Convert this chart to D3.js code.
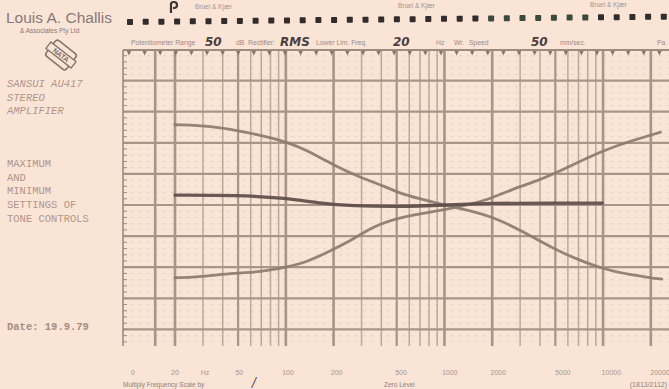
<!DOCTYPE html>
<html><head><meta charset="utf-8">
<script src="https://cdn.jsdelivr.net/npm/d3@7"></script>
<style>html,body{margin:0;padding:0;background:#fae4d6;}svg{display:block;}</style>
</head><body>
<svg id="c" width="669" height="389"></svg>
<script>
// ---------- data ----------
const freqA = [20, 34, 51, 68, 81, 101, 131, 200, 290, 430, 520, 700, 1000, 1500, 2000, 3000, 5000, 7000, 10000, 15000, 20000, 23500];
const dbA   = [12.9, 12.7, 11.9, 11.25, 10.8, 10.1, 9.0, 6.4, 4.5, 2.9, 1.9, 1.0, 0, -1.0, -1.9, -4.0, -7.2, -8.8, -10.3, -11.25, -11.7, -11.9];
const freqB = [20, 27, 49, 68, 101, 135, 197, 263, 352, 520, 1030, 1900, 2570, 3970, 5000, 10000, 15000, 23000];
const dbB   = [-11.7, -11.6, -10.9, -10.8, -10.0, -9.2, -7.2, -5.6, -3.5, -1.9, -0.8, 0.8, 2.4, 4.0, 5.1, 8.8, 10.3, 11.7];
const freqC = [20, 49, 101, 163, 263, 520, 1030, 1980, 5000, 9900];
const dbC   = [1.6, 1.6, 1.1, 0.3, -0.15, -0.3, 0, 0.3, 0.3, 0.3];
const tickFreqs  = [20, 50, 100, 200, 500, 1000, 2000, 5000, 10000, 20000];
const tickLabels = ["20", "50", "100", "200", "500", "1000", "2000", "5000", "10000", "20000"];
const leftNotes1 = ["SANSUI AU417", "STEREO", "AMPLIFIER"];
const leftNotes2 = ["MAXIMUM", "AND", "MINIMUM", "SETTINGS OF", "TONE CONTROLS"];
const dateNote = "Date: 19.9.79";

// ---------- layout ----------
const svg = d3.select("#c");
const W = 669, H = 389;
const gx0 = 123, gy0 = 50, gy1 = 346;
const x = d3.scaleLog().domain([9.4, 28000]).range([gx0, gx0 + Math.log10(28000 / 9.4) * 158.6]);
const y = d3.scaleLinear().domain([25, -20]).range([49.5, 329.4]);
const xl = d3.scaleLog().domain([20, 20000]).range([175, 660]);

svg.append("rect").attr("width", W).attr("height", H).attr("fill", "#fae4d6");
svg.append("defs").append("clipPath").attr("id", "gclip")
  .append("rect").attr("x", gx0).attr("y", gy0).attr("width", W - gx0).attr("height", gy1 - gy0);

const grid = svg.append("g").attr("clip-path", "url(#gclip)");
const gridCol = "#bba89b", thickCol = "#a8958a";

// faint 1 dB lines
grid.selectAll(".hm").data(d3.range(25, -24, -1).filter(d => d % 5 !== 0)).join("line")
  .attr("x1", gx0).attr("x2", W).attr("y1", d => y(d)).attr("y2", d => y(d))
  .attr("stroke", "#e0cbbf").attr("stroke-width", 0.7).attr("stroke-dasharray", "3,5");

// vertical lines
const vFreqs = [15];
[10, 100, 1000, 10000].forEach(dec => d3.range(1, 10).forEach(m => { const f = dec * m; if (f >= 20 && f <= 20000) vFreqs.push(f); }));
const lead = d => Math.round(d / Math.pow(10, Math.floor(Math.log10(d))));
grid.selectAll(".v").data(vFreqs).join("line")
  .attr("x1", d => x(d)).attr("x2", d => x(d)).attr("y1", gy0).attr("y2", gy1)
  .attr("stroke", d => [1, 2, 5].includes(lead(d)) ? thickCol : gridCol)
  .attr("stroke-width", d => [1, 2].includes(lead(d)) ? 2.6 : (lead(d) === 5 ? 2.2 : 1.5));

// horizontal major lines
grid.selectAll(".h").data(d3.range(25, -21, -5)).join("line")
  .attr("x1", gx0).attr("x2", W).attr("y1", d => y(d)).attr("y2", d => y(d))
  .attr("stroke", thickCol).attr("stroke-width", 2.2);

// borders + left ticks
svg.append("line").attr("x1", gx0).attr("x2", gx0).attr("y1", gy0).attr("y2", gy1).attr("stroke", "#9d8a80").attr("stroke-width", 1.6);
svg.append("line").attr("x1", gx0).attr("x2", W).attr("y1", gy0).attr("y2", gy0).attr("stroke", "#9d8a80").attr("stroke-width", 2);
svg.selectAll(".lt").data(d3.range(25, -23, -1)).join("line")
  .attr("x1", gx0).attr("x2", gx0 + 4).attr("y1", d => y(d)).attr("y2", d => y(d))
  .attr("stroke", "#a08e84").attr("stroke-width", 1);

// top time markers
svg.selectAll(".tm").data(d3.range(129, W, 15.6)).join("path")
  .attr("d", d => `M${d - 2.2},${gy0 + 1}L${d + 2.2},${gy0 + 1}L${d},${gy0 + 5.5}Z`)
  .attr("fill", "#85756e");

// sprocket holes (slightly tilted scan)
const holes = d3.range(130, W, 15.7);
svg.selectAll(".sh").data(holes).join("rect")
  .attr("x", d => d - 3).attr("y", d => 22 - (d - 130) * 0.01 - 3)
  .attr("width", 6).attr("height", 6).attr("rx", 0.8)
  .attr("fill", (d, i) => (i > 22 && i < 30) ? "#3a4a3e" : "#322d2d");
svg.append("path").attr("d", "M171,13 L171,4 Q171,2 174,2 Q177,2 177,5 Q177,8 174,8 L173,8").attr("fill", "none").attr("stroke", "#3b3535").attr("stroke-width", 2.2);

// curves
const line = d3.line().x(d => x(d[0])).y(d => y(d[1])).curve(d3.curveBasis);
const series = [
  { f: freqA, v: dbA, col: "#8c7a70", w: 2.8 },
  { f: freqB, v: dbB, col: "#8c7a70", w: 2.8 },
  { f: freqC, v: dbC, col: "#5c4d47", w: 3.3 }
];
svg.selectAll(".curve").data(series).join("path")
  .attr("d", s => line(s.f.map((f, i) => [f, s.v[i]])))
  .attr("fill", "none").attr("stroke", s => s.col).attr("stroke-width", s => s.w)
  .attr("stroke-linecap", "round").attr("opacity", 0.92);

// bottom labels
const lblCol = "#a8968e";
const bl = svg.append("g").attr("font-family", "Liberation Sans, Arial, sans-serif").attr("font-size", 7).attr("fill", lblCol).attr("text-anchor", "middle");
bl.selectAll("text").data(tickFreqs).join("text").attr("x", d => xl(d)).attr("y", 375).text((d, i) => tickLabels[i]);
bl.append("text").attr("x", 133).attr("y", 375).text("0");
bl.append("text").attr("x", 205).attr("y", 375).text("Hz");
svg.append("text").attr("x", 123).attr("y", 387).attr("font-family", "Liberation Sans, Arial, sans-serif").attr("font-size", 6.5).attr("fill", "#8f7f7a").text("Multiply Frequency Scale by");
svg.append("text").attr("x", 252).attr("y", 387).attr("font-family", "DejaVu Serif, serif").attr("font-style", "italic").attr("font-size", 12).attr("fill", "#3f3535").text("/");
svg.append("text").attr("x", 384).attr("y", 387).attr("font-family", "Liberation Sans, Arial, sans-serif").attr("font-size", 6.5).attr("fill", "#8f7f7a").text("Zero Level");
svg.append("text").attr("x", 667).attr("y", 387).attr("text-anchor", "end").attr("font-family", "Liberation Sans, Arial, sans-serif").attr("font-size", 7).attr("fill", "#8f7f7a").text("(1813/2112)");

// header
const hdrCol = "#9a8a86";
svg.append("text").attr("x", 6).attr("y", 23).attr("font-family", "Liberation Sans, Arial, sans-serif").attr("font-size", 15.5).attr("fill", "#877878").text("Louis A. Challis");
svg.append("text").attr("x", 20).attr("y", 33).attr("font-family", "Liberation Sans, Arial, sans-serif").attr("font-size", 6.5).attr("fill", "#877878").text("& Associates Pty Ltd");
[[195, 9], [398, 8], [590, 7]].forEach(p => svg.append("text").attr("x", p[0]).attr("y", p[1]).attr("font-family", "Liberation Sans, Arial, sans-serif").attr("font-size", 6.5).attr("fill", "#a49490").text("Bruel & Kjær"));
const hdr = [["Potentiometer Range", 131], ["dB", 236], ["Rectifier:", 248], ["Lower Lim. Freq.", 316], ["Hz", 436], ["Wr.", 454], ["Speed", 469], ["mm/sec.", 560], ["Pa", 657]];
svg.selectAll(".hd").data(hdr).join("text").attr("x", d => d[1]).attr("y", 45)
  .attr("font-family", "Liberation Sans, Arial, sans-serif").attr("font-size", 6.8).attr("fill", hdrCol).text(d => d[0]);
const hand = [["50", 205], ["RMS", 280], ["20", 393], ["50", 531]];
svg.selectAll(".hw").data(hand).join("text").attr("x", d => d[1]).attr("y", 46)
  .attr("font-family", "DejaVu Sans, sans-serif").attr("font-style", "italic").attr("font-weight", "bold")
  .attr("font-size", 12).attr("fill", "#4a3f3c").text(d => d[0]);

// NATA logo
const logo = svg.append("g").attr("transform", "translate(61,55) rotate(38)");
logo.append("rect").attr("x", -13).attr("y", -10).attr("width", 26).attr("height", 20).attr("rx", 3).attr("fill", "none").attr("stroke", "#83756f").attr("stroke-width", 1.6);
logo.append("rect").attr("x", -16).attr("y", -4).attr("width", 32).attr("height", 8).attr("fill", "#fae4d6").attr("stroke", "#83756f").attr("stroke-width", 1.3);
logo.append("text").attr("x", 0).attr("y", 2.6).attr("text-anchor", "middle").attr("font-family", "Liberation Sans, Arial, sans-serif").attr("font-weight", "bold").attr("font-size", 7).attr("fill", "#7a6c68").text("NATA");

// left typed notes
const noteCol = "#b0958a";
const nt = svg.append("g").attr("font-family", "Liberation Mono, DejaVu Sans Mono, monospace").attr("font-size", 10.5).attr("fill", noteCol);
nt.selectAll(".n1").data(leftNotes1).join("text").attr("x", 7).attr("y", (d, i) => 87 + i * 13.5).attr("font-style", "italic").text(d => d);
nt.selectAll(".n2").data(leftNotes2).join("text").attr("x", 7).attr("y", (d, i) => 167 + i * 13.7).text(d => d);
nt.append("text").attr("x", 7).attr("y", 330).attr("font-weight", "bold").attr("fill", "#a88c82").text(dateNote);
</script>
</body></html>
